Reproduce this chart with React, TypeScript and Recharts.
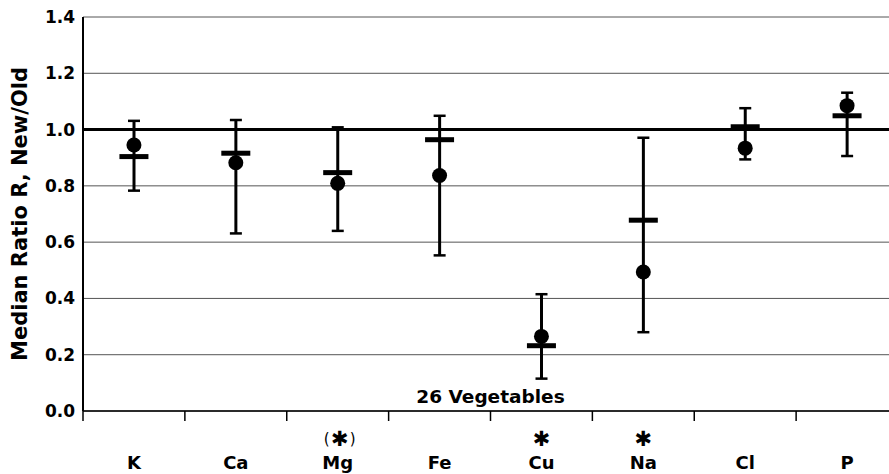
import {
  ComposedChart,
  XAxis,
  YAxis,
  CartesianGrid,
  Bar,
  Line,
  ReferenceLine,
} from "recharts";

// element shown under each column, and the star note above it
const elements = ["K", "Ca", "Mg", "Fe", "Cu", "Na", "Cl", "P"];
const notes = ["", "", "(*)", "", "*", "*", "", ""];

// round markers, dash markers and the whisker ends
const dotRatios = [0.945, 0.882, 0.809, 0.837, 0.265, 0.494, 0.934, 1.085];
const dashRatios = [0.904, 0.916, 0.847, 0.964, 0.232, 0.678, 1.01, 1.049];
const lowRatios = [0.783, 0.631, 0.64, 0.553, 0.115, 0.28, 0.894, 0.906];
const highRatios = [1.031, 1.034, 1.008, 1.049, 0.415, 0.971, 1.076, 1.131];

const yTicks = [0, 0.2, 0.4, 0.6, 0.8, 1.0, 1.2, 1.4];

const rows = elements.map((name, i) => ({
  name,
  dot: dotRatios[i],
  dash: dashRatios[i],
  range: [lowRatios[i], highRatios[i]],
}));

// whisker: vertical stem with a cap on each end
const Whisker = (p: any) => {
  const cx = p.x + p.width / 2;
  const top = p.y;
  const bottom = p.y + p.height;
  return (
    <g>
      <line x1={cx} x2={cx} y1={top} y2={bottom} stroke="#000" strokeWidth={3} />
      <line x1={cx - 6} x2={cx + 6} y1={top} y2={top} stroke="#000" strokeWidth={2.5} />
      <line x1={cx - 6} x2={cx + 6} y1={bottom} y2={bottom} stroke="#000" strokeWidth={2.5} />
    </g>
  );
};

const DashMark = (p: any) => (
  <rect key={`dash-${p.index}`} x={p.cx - 14.5} y={p.cy - 2.5} width={29} height={5} fill="#000" />
);

const RoundMark = (p: any) => (
  <circle key={`dot-${p.index}`} cx={p.cx} cy={p.cy} r={7.5} fill="#000" />
);

// category label with the separator ticks and the significance note
const ElementTick = (p: any) => {
  const { x, y, payload } = p;
  const i = elements.indexOf(payload.value);
  const half = payload.offset ?? 0;
  const note = notes[i] || "";
  const paren = note.startsWith("(");
  return (
    <g>
      <line x1={x - half} x2={x - half} y1={y} y2={y + 10} stroke="#000" strokeWidth={1.5} />
      {i === elements.length - 1 && (
        <line x1={x + half} x2={x + half} y1={y} y2={y + 10} stroke="#000" strokeWidth={1.5} />
      )}
      {paren && (
        <>
          <text x={x - 11} y={y + 33} textAnchor="middle" fontSize={15} fill="#000">(</text>
          <text x={x + 15} y={y + 33} textAnchor="middle" fontSize={15} fill="#000">)</text>
        </>
      )}
      {note && (
        <text x={paren ? x + 2 : x} y={y + 35} textAnchor="middle" fontSize={21} fill="#000">✱</text>
      )}
      <text x={x} y={y + 58} textAnchor="middle" fontSize={18} fontWeight="bold" fill="#000">
        {payload.value}
      </text>
    </g>
  );
};

const AxisTitle = ({ viewBox }: any) => {
  const cx = viewBox.x + 27;
  const cy = viewBox.y + viewBox.height / 2;
  return (
    <text
      x={cx}
      y={cy}
      transform={`rotate(-90 ${cx} ${cy})`}
      textAnchor="middle"
      fontSize={21}
      fontWeight="bold"
      fill="#000"
    >
      Median Ratio R, New/Old
    </text>
  );
};

export default function App() {
  return (
    <div
      style={{
        position: "absolute",
        left: 0,
        top: 0,
        width: 889,
        height: 474,
        overflow: "hidden",
        background: "#fff",
        fontFamily: "DejaVu Sans",
      }}
    >
      <ComposedChart
        width={900}
        height={474}
        data={rows}
        margin={{ top: 17, right: 2, bottom: 0, left: 0 }}
      >
        <CartesianGrid vertical={false} stroke="#555" strokeWidth={1} />
        <XAxis
          dataKey="name"
          height={63}
          tickLine={false}
          tickSize={0}
          tickMargin={0}
          axisLine={{ stroke: "#000", strokeWidth: 1.5 }}
          tick={<ElementTick />}
          interval={0}
        />
        <YAxis
          width={83}
          domain={[0, 1.4]}
          ticks={yTicks}
          tickFormatter={(v: number) => v.toFixed(1)}
          tickLine={false}
          tickSize={0}
          tickMargin={8}
          axisLine={{ stroke: "#000", strokeWidth: 2 }}
          tick={{ fill: "#000", fontSize: 17, fontWeight: "bold" }}
          label={<AxisTitle />}
        />
        <ReferenceLine y={1} stroke="#000" strokeWidth={3} />
        <ReferenceLine
          y={0}
          stroke="none"
          label={{
            value: "26 Vegetables",
            position: "top",
            offset: 8,
            fontSize: 18.5,
            fontWeight: "bold",
            fill: "#000",
          }}
        />
        <Bar dataKey="range" barSize={12} shape={<Whisker />} isAnimationActive={false} />
        <Line
          dataKey="dash"
          stroke="none"
          dot={DashMark}
          activeDot={false}
          isAnimationActive={false}
        />
        <Line
          dataKey="dot"
          stroke="none"
          dot={RoundMark}
          activeDot={false}
          isAnimationActive={false}
        />
      </ComposedChart>
    </div>
  );
}
